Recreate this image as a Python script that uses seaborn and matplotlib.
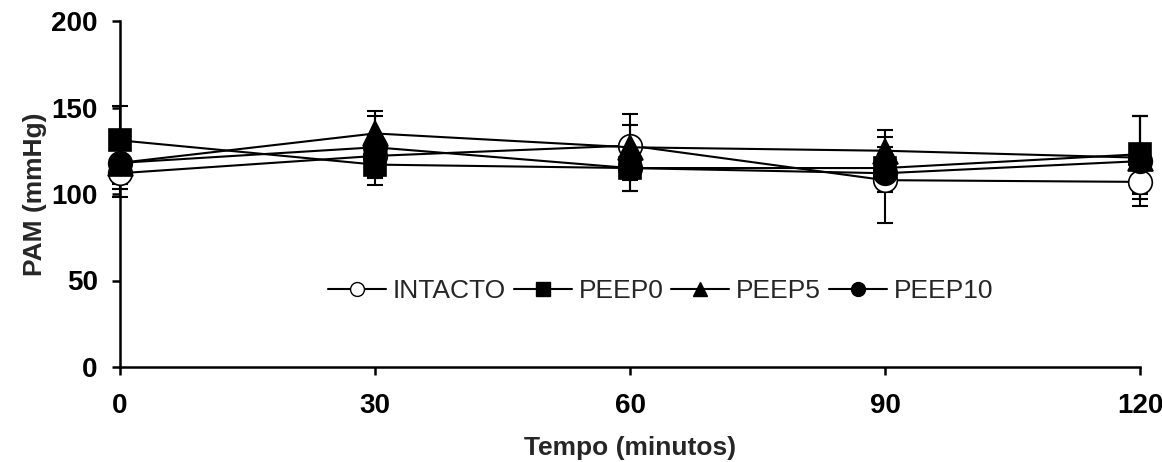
import numpy as np
import pandas as pd
import matplotlib
matplotlib.use("Agg")
import matplotlib.pyplot as plt
import seaborn as sns
from matplotlib.lines import Line2D

tempo = [0, 30, 60, 90, 120]

intacto = [112, 122, 128, 108, 107]
peep0 = [131, 117, 115, 115, 123]
peep5 = [118, 135, 127, 125, 121]
peep10 = [118, 127, 115, 112, 119]

err_intacto = [14, 12, 12, 25, 7]
err_peep0 = [20, 12, 13, 12, 22]
err_peep5 = [12, 13, 19, 12, 24]
err_peep10 = [15, 18, 13, 11, 26]

series = ["INTACTO", "PEEP0", "PEEP5", "PEEP10"]

df = pd.DataFrame({
    "tempo": tempo * 4,
    "pam": intacto + peep0 + peep5 + peep10,
    "err": err_intacto + err_peep0 + err_peep5 + err_peep10,
    "grupo": np.repeat(series, len(tempo)),
})

styles = {
    "INTACTO": dict(marker="o", markerfacecolor="white", markersize=17),
    "PEEP0": dict(marker="s", markerfacecolor="black", markersize=16),
    "PEEP5": dict(marker="^", markerfacecolor="black", markersize=18),
    "PEEP10": dict(marker="o", markerfacecolor="black", markersize=17),
}

sns.set_style("white")
plt.rcParams["font.family"] = ["Liberation Sans", "DejaVu Sans"]

fig = plt.figure(figsize=(11.62, 4.62), dpi=100)
ax = fig.add_axes([120 / 1162, 1 - 367 / 462, 1020 / 1162, 346 / 462])

for g in series:
    d = df[df["grupo"] == g]
    ax.errorbar(d["tempo"], d["pam"], yerr=d["err"], fmt="none",
                ecolor="black", elinewidth=1.5, capsize=6, capthick=1.5,
                clip_on=False, zorder=2)

for g in series:
    d = df[df["grupo"] == g]
    sns.lineplot(data=d, x="tempo", y="pam", ax=ax, color="black",
                 linewidth=1.5, markeredgecolor="black", markeredgewidth=1.2,
                 clip_on=False, zorder=3, **styles[g])

ax.set_xlim(0, 120)
ax.set_ylim(0, 200)
ax.set_xticks(tempo)
ax.set_yticks([0, 50, 100, 150, 200])

for s in ["top", "right"]:
    ax.spines[s].set_visible(False)
for s in ["left", "bottom"]:
    ax.spines[s].set_linewidth(1.8)
    ax.spines[s].set_color("black")

ax.tick_params(axis="both", direction="out", length=6, width=1.8,
               colors="black", labelsize=20, left=True, bottom=True)
ax.tick_params(axis="y", pad=10)
ax.tick_params(axis="x", pad=13)
for lab in ax.get_xticklabels() + ax.get_yticklabels():
    lab.set_fontweight("bold")

ax.set_xlabel("Tempo (minutos)", fontsize=19, fontweight="bold", labelpad=12)
ax.set_ylabel("PAM (mmHg)", fontsize=19, fontweight="bold", labelpad=3)

handles = [
    Line2D([], [], color="black", linewidth=1.5, marker=styles[g]["marker"],
           markerfacecolor=styles[g]["markerfacecolor"],
           markeredgecolor="black", markersize=10)
    for g in series
]
ax.legend(handles, series, loc="center", bbox_to_anchor=(0.53, 0.22),
          ncol=4, frameon=False, fontsize=19, handlelength=2.2,
          handletextpad=0.25, columnspacing=0.3)

fig.savefig("out.png", dpi=100)
